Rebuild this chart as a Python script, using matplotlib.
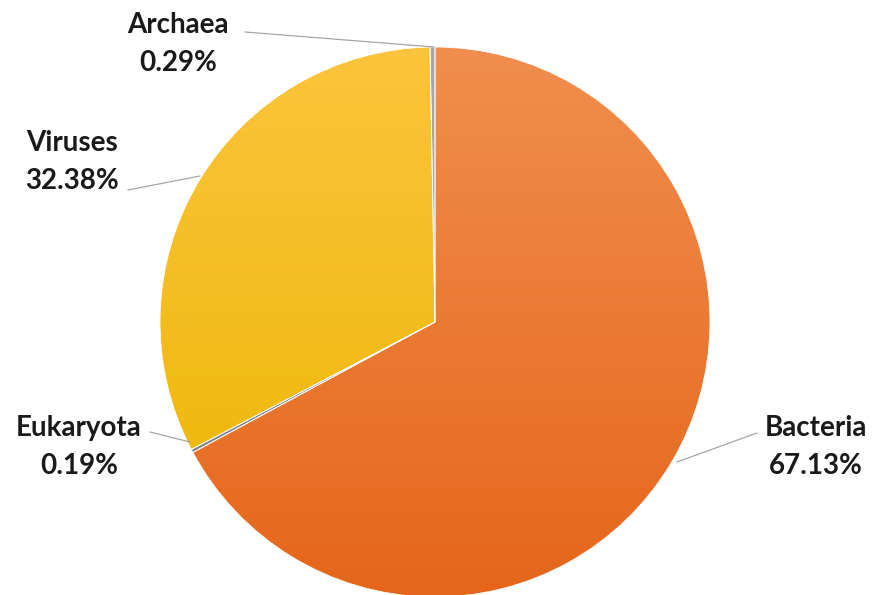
import numpy as np
import matplotlib.pyplot as plt
from matplotlib.colors import LinearSegmentedColormap

# Share of sequences per domain (clockwise from 12 o'clock)
domains = ['Bacteria', 'Eukaryota', 'Viruses', 'Archaea']
shares = [67.13, 0.19, 32.38, 0.29]

# top and bottom shade of each slice (vertical gradient)
shades = {
    'Bacteria': ('#F18E4E', '#E5661A'),
    'Eukaryota': ('#8C8C8C', '#7A7A7A'),
    'Viruses': ('#FCC43C', '#EBB500'),
    'Archaea': ('#A8A8A8', '#959595'),
}

# label placement in pixels (centre of label block) and leader line ends
label_xy = {
    'Bacteria': (816, 447),
    'Eukaryota': (79, 447),
    'Viruses': (72, 162),
    'Archaea': (178, 44),
}
leader = {
    'Bacteria': [(757, 433), (677, 462)],
    'Eukaryota': [(150, 432), (190, 442)],
    'Viruses': [(128, 190), (200, 176)],
    'Archaea': [(245, 32), (434, 47)],
}

W, H = 878, 595
cx, cy, r = 435, 322, 275

fig = plt.figure(figsize=(W / 100, H / 100), dpi=100)
ax = fig.add_axes([(cx - r) / W, (H - cy - r) / H, 2 * r / W, 2 * r / H])

wedges, _ = ax.pie(shares, startangle=90, counterclock=False, radius=1,
                   colors=['none'] * len(shares),
                   wedgeprops=dict(linewidth=0))
ax.axis('off')

grad = np.linspace(1, 0, 256).reshape(-1, 1)
for name, w in zip(domains, wedges):
    top, bottom = shades[name]
    cmap = LinearSegmentedColormap.from_list(name, [bottom, top])
    im = ax.imshow(grad, cmap=cmap, extent=(-1, 1, -1, 1), origin='upper',
                   aspect='auto', zorder=1, interpolation='bilinear')
    im.set_clip_path(w)
    w.set_zorder(2)
    w.set_edgecolor('white')
    w.set_linewidth(0.6)
ax.set_xlim(-1, 1)
ax.set_ylim(-1, 1)
ax.set_aspect('equal')


def to_data(px, py):
    return (px - cx) / r, (cy - py) / r


for name, val in zip(domains, shares):
    (x0, y0), (x1, y1) = leader[name]
    a, b = to_data(x0, y0)
    c, d = to_data(x1, y1)
    ax.plot([a, c], [b, d], color='#A6A6A6', lw=0.9, zorder=3, clip_on=False)
    lx, ly = to_data(*label_xy[name])
    ax.text(lx, ly, f'{name}\n{val:.2f}%', ha='center', va='center',
            fontsize=20, fontweight='bold', family='Lato', color='#1a1a1a',
            linespacing=1.6, clip_on=False)

fig.savefig('out.png', dpi=100, facecolor='white')
